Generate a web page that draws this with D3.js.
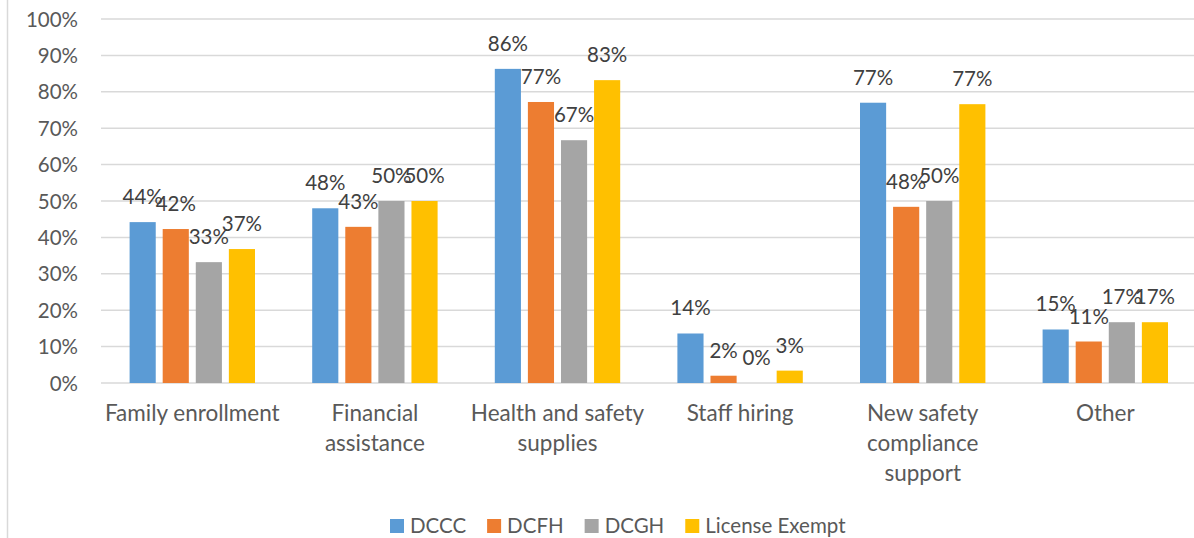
<!DOCTYPE html>
<html>
<head>
<meta charset="utf-8">
<script src="https://cdn.jsdelivr.net/npm/d3@7"></script>
<style>
  html, body { margin: 0; padding: 0; background: #ffffff; }
  svg { display: block; }
  text { font-family: Lato, "Open Sans", "Liberation Sans", sans-serif; }
</style>
</head>
<body>
<svg id="chart" width="1194" height="538"></svg>
<script>
// ---- data ----
const categories = ["Family enrollment", "Financial assistance", "Health and safety supplies", "Staff hiring", "New safety compliance support", "Other"];
const categoryLines = [["Family enrollment"], ["Financial", "assistance"], ["Health and safety", "supplies"], ["Staff hiring"], ["New safety", "compliance", "support"], ["Other"]];
const seriesNames = ["DCCC", "DCFH", "DCGH", "License Exempt"];
const dccc = [0.442, 0.480, 0.863, 0.136, 0.770, 0.147];
const dcfh = [0.423, 0.429, 0.772, 0.020, 0.484, 0.114];
const dcgh = [0.332, 0.500, 0.667, 0.000, 0.500, 0.167];
const licenseExempt = [0.368, 0.500, 0.832, 0.034, 0.766, 0.167];
const yTicks = [0, 0.1, 0.2, 0.3, 0.4, 0.5, 0.6, 0.7, 0.8, 0.9, 1.0];
const colors = ["#5B9BD5", "#ED7D31", "#A5A5A5", "#FFC000"];

const seriesValues = [dccc, dcfh, dcgh, licenseExempt];
const svg = d3.select("#chart");

// frame line at left
svg.append("line").attr("x1", 7.5).attr("x2", 7.5).attr("y1", 0).attr("y2", 538)
  .attr("stroke", "#d9d9d9").attr("stroke-width", 1.5);

const y = d3.scaleLinear().domain([0, 1]).range([383, 19]);
const x0 = d3.scaleBand().domain(categories).range([101, 1196.6]).padding(0);
const groupPad = 28.6;
const x1 = d3.scaleBand().domain(seriesNames).range([0, x0.bandwidth() - 2 * groupPad]).paddingInner(0.21);

const pct = d3.format(".0%");

// gridlines
const grid = svg.append("g");
grid.selectAll("line").data(yTicks).join("line")
  .attr("x1", 101).attr("x2", 1194)
  .attr("y1", d => y(d)).attr("y2", d => y(d))
  .attr("stroke", "#d9d9d9").attr("stroke-width", 1.5);

// y axis labels
const yAxis = d3.axisLeft(y).tickValues(yTicks).tickFormat(pct).tickSize(0).tickPadding(0);
const ya = svg.append("g").attr("transform", "translate(78,0)").call(yAxis);
ya.select(".domain").remove();
ya.selectAll("text").attr("font-size", 20.5).attr("fill", "#595959")
  .attr("font-family", "Lato, 'Open Sans', sans-serif").attr("dy", "0.35em");

// bars
const groups = svg.append("g").selectAll("g").data(categories).join("g")
  .attr("transform", d => `translate(${x0(d) + groupPad},0)`);

groups.each(function(cat, ci) {
  const g = d3.select(this);
  const data = seriesNames.map((s, si) => ({ s, si, v: seriesValues[si][ci] }));
  g.selectAll("rect").data(data).join("rect")
    .attr("x", d => x1(d.s))
    .attr("width", x1.bandwidth())
    .attr("y", d => y(d.v))
    .attr("height", d => y(0) - y(d.v))
    .attr("fill", d => colors[d.si]);
  g.selectAll("text.lbl").data(data).join("text").attr("class", "lbl")
    .attr("x", d => x1(d.s) + x1.bandwidth() / 2)
    .attr("y", d => y(d.v) - 18)
    .attr("text-anchor", "middle")
    .attr("font-size", 20.5)
    .attr("fill", "#404040")
    .text(d => pct(d.v));
});

// category labels
const catG = svg.append("g").selectAll("text").data(categories).join("text")
  .attr("text-anchor", "middle")
  .attr("font-size", 22.5)
  .attr("fill", "#595959")
  .attr("transform", d => `translate(${x0(d) + x0.bandwidth() / 2},421)`);
catG.each(function(d, i) {
  d3.select(this).selectAll("tspan").data(categoryLines[i]).join("tspan")
    .attr("x", 0).attr("y", (l, j) => j * 30).text(l => l);
});

// legend
const leg = svg.append("g");
let lx = 390;
seriesNames.forEach((s, i) => {
  leg.append("rect").attr("x", lx).attr("y", 519).attr("width", 14).attr("height", 14).attr("fill", colors[i]);
  const t = leg.append("text").attr("x", lx + 20).attr("y", 533).attr("font-size", 20.5)
    .attr("fill", "#595959").text(s);
  lx = lx + 20 + t.node().getComputedTextLength() + 21;
});
</script>
</body>
</html>
